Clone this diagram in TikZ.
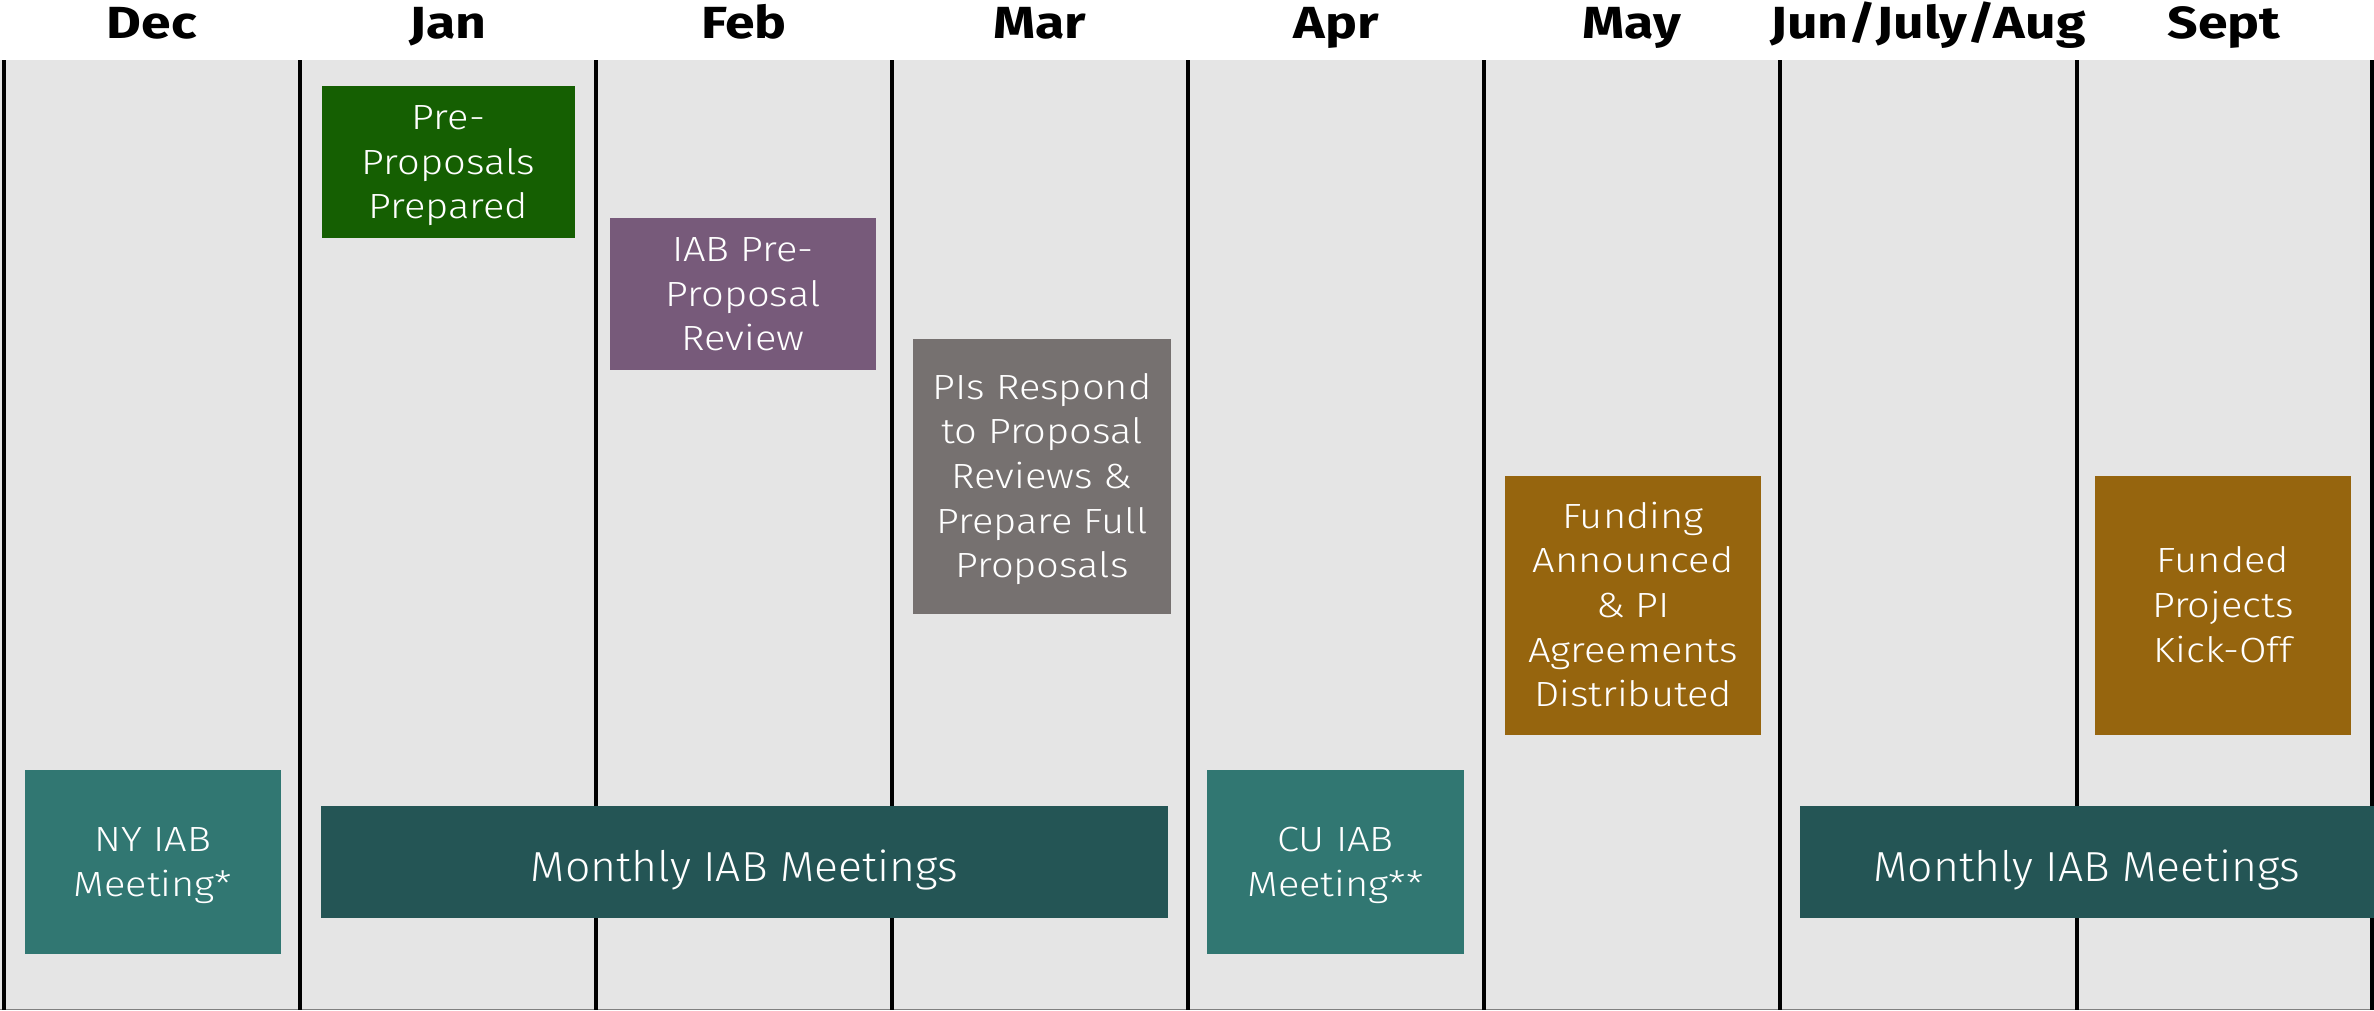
\documentclass[tikz,border=0pt]{standalone}
\usepackage{fontspec}
\setmainfont{Fira Sans}
\newfontfamily\headfont{Fira Sans}[FakeStretch=1.19]
\newfontfamily\panelfont{Fira Sans Light}[FakeStretch=1.14]
\newfontfamily\bannerfont{Fira Sans Light}[FakeStretch=1.06]

\definecolor{bgGrey}{HTML}{E5E5E5}
\definecolor{prepGreen}{HTML}{155F02}
\definecolor{reviewPurple}{HTML}{775A7A}
\definecolor{respondGrey}{HTML}{767170}
\definecolor{fundGold}{HTML}{96650E}
\definecolor{meetTeal}{HTML}{317772}
\definecolor{monthlyTeal}{HTML}{245555}

% fixed line struts so every block sits at the same height in its box
\newcommand{\topstrut}[1]{\rule{0pt}{#1}}
\newcommand{\botstrut}[1]{\rule[-#1]{0pt}{#1}}
\newcommand{\firstline}{\topstrut{10pt}}

\tikzset{
  month/.style={font=\headfont\bfseries\fontsize{13.5}{16}\selectfont, anchor=base, inner sep=0},
  divider/.style={line width=1.1pt, black},
  panel/.style={fill=#1, draw=none, text=white, align=center, inner sep=0,
    font=\panelfont\fontsize{10.5}{13.4}\selectfont,
    execute at end node={\botstrut{2.77pt}}},
  banner/.style={fill=#1, draw=none, text=white, align=center, inner sep=0,
    font=\bannerfont\fontsize{12.6}{15}\selectfont,
    execute at begin node={\topstrut{16pt}},
    execute at end node={\botstrut{4.32pt}}},
}

\begin{document}
\begin{tikzpicture}[x=0.3pt, y=-0.3pt]
  \useasboundingbox (0,0) rectangle (2374,1011);

  % calendar band
  \fill[bgGrey] (0,60) rectangle (2374,1010);
  \draw[line width=0.4pt, gray] (0,1009.5) -- (2374,1009.5);

  % month columns
  \foreach \xx in {4,300,596,892,1188,1484,1780,2077,2372}
    \draw[divider] (\xx,60) -- (\xx,1010);

  % month headings
  \node[month] (dec)  at (152,38)  {Dec};
  \node[month] (jan)  at (448,38)  {Jan};
  \node[month] (feb)  at (744,38)  {Feb};
  \node[month] (mar)  at (1040,38) {Mar};
  \node[month] (apr)  at (1336,38) {Apr};
  \node[month] (may)  at (1632,38) {May};
  \node[month] (summer) at (1928,38) {Jun/July/Aug};
  \node[month] (sept) at (2224,38) {Sept};

  % milestones
  \node[panel=prepGreen, minimum width=75.9pt, minimum height=45.6pt] (pre)
    at (448.5,162) {\firstline Pre-\\Proposals\\Prepared};
  \node[panel=reviewPurple, minimum width=79.8pt, minimum height=45.6pt] (review)
    at (743,294) {\firstline IAB Pre-\\Proposal\\Review};
  \node[panel=respondGrey, minimum width=77.4pt, minimum height=82.5pt] (respond)
    at (1042,476.5) {\firstline PIs Respond\\to Proposal\\Reviews \&\\Prepare Full\\Proposals};
  \node[panel=fundGold, minimum width=76.8pt, minimum height=77.7pt] (funding)
    at (1633,605.5) {\firstline Funding\\Announced\\\& PI\\Agreements\\Distributed};
  \node[panel=fundGold, minimum width=76.8pt, minimum height=77.7pt] (kickoff)
    at (2223,605.5) {\firstline Funded\\Projects\\Kick-Off};

  % meetings
  \node[panel=meetTeal, minimum width=76.8pt, minimum height=55.2pt] (ny)
    at (153,862) {\firstline NY IAB\\Meeting*};
  \node[panel=meetTeal, minimum width=77.1pt, minimum height=55.2pt] (cu)
    at (1335.5,862) {\firstline CU IAB\\Meeting**};
  \node[banner=monthlyTeal, minimum width=254.1pt, minimum height=33.6pt] (monthlyA)
    at (744.5,862) {Monthly IAB Meetings};
  \node[banner=monthlyTeal, minimum width=172.2pt, minimum height=33.6pt] (monthlyB)
    at (2087,862) {Monthly IAB Meetings};
\end{tikzpicture}
\end{document}
